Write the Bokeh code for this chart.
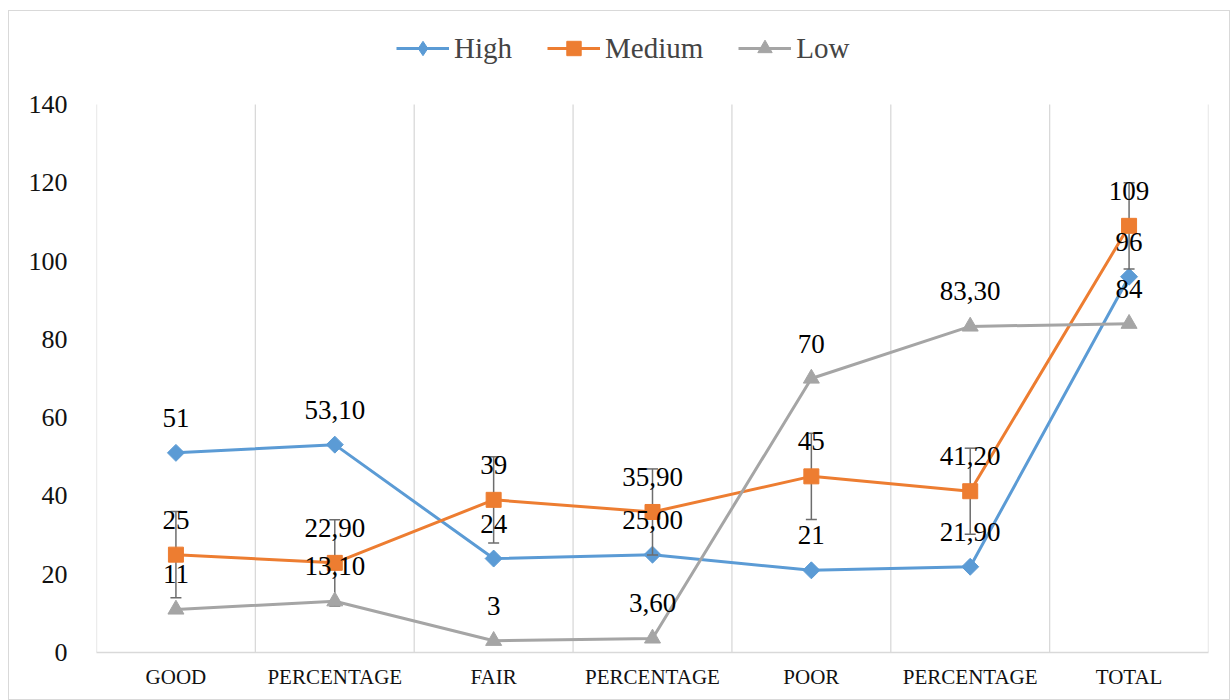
import math
from bokeh.plotting import figure
from bokeh.models import (Range1d, FixedTicker, Legend, LegendItem,
                          ColumnDataSource, LabelSet, CDSView, IndexFilter)
from bokeh.embed import file_html
from bokeh.resources import INLINE

# ---------------- data ----------------
categories = ["GOOD", "PERCENTAGE", "FAIR", "PERCENTAGE", "POOR", "PERCENTAGE", "TOTAL"]
high = [51, 53.1, 24, 25, 21, 21.9, 96]
medium = [25, 22.9, 39, 35.9, 45, 41.2, 109]
low = [11, 13.1, 3, 3.6, 70, 83.3, 84]
high_labels = ["51", "53,10", "24", "25,00", "21", "21,90", "96"]
medium_labels = ["25", "22,90", "39", "35,90", "45", "41,20", "109"]
low_labels = ["11", "13,10", "3", "3,60", "70", "83,30", "84"]
medium_err = [11, 11, 11, 11, 11, 11, 11]
y_ticks = [0, 20, 40, 60, 80, 100, 120, 140]
y_max = 140

FONT = "'Liberation Serif'"
C_HIGH = "#5B9BD5"
C_MED = "#ED7D31"
C_LOW = "#A5A5A5"
GRID = "#d9d9d9"

n = len(categories)
xs = [i + 0.5 for i in range(n)]
bounds = list(range(n + 1))

src = ColumnDataSource(dict(
    x=xs, high=high, medium=medium, low=low,
    hl=high_labels, ml=medium_labels, ll=low_labels,
    mu=[m + e for m, e in zip(medium, medium_err)],
    md=[m - e for m, e in zip(medium, medium_err)],
))

# frame extends above the value axis to hold the legend
px_per_unit = 548 / y_max
top_extra = 90 / px_per_unit

p = figure(width=1222, height=690, margin=(10, 0, 0, 8),
           output_backend="svg", toolbar_location=None,
           x_range=Range1d(0, n), y_range=Range1d(0, y_max + top_extra),
           min_border_left=87, min_border_right=23,
           min_border_top=3, min_border_bottom=49,
           styles={"border": "1px solid #d9d9d9", "box-sizing": "border-box"})
p.outline_line_color = None
p.background_fill_color = "white"
p.border_fill_color = "white"

# grids (vertical category separators limited to the value range)
p.ygrid.visible = False
p.xgrid.visible = False
p.segment(x0=bounds, y0=[0] * len(bounds), x1=bounds, y1=[y_max] * len(bounds),
          line_color=GRID, line_width=1.3)

# x axis
p.xaxis.ticker = FixedTicker(ticks=xs)
p.xaxis.major_label_overrides = {x: c for x, c in zip(xs, categories)}
p.xaxis.axis_line_color = GRID
p.xaxis.axis_line_width = 1.3
p.xaxis.major_tick_line_color = None
p.xaxis.minor_tick_line_color = None
p.xaxis.major_label_text_font = FONT
p.xaxis.major_label_text_font_size = "21px"
p.xaxis.major_label_text_color = "#111111"
p.xaxis.major_label_standoff = 6

# y axis
p.yaxis.ticker = FixedTicker(ticks=y_ticks)
p.yaxis.axis_line_color = None
p.yaxis.major_tick_line_color = None
p.yaxis.minor_tick_line_color = None
p.yaxis.major_label_text_font = FONT
p.yaxis.major_label_text_font_size = "26px"
p.yaxis.major_label_text_color = "#111111"
p.yaxis.major_label_standoff = 23

# series
h_line = p.line("x", "high", source=src, line_color=C_HIGH, line_width=3)
# legend diamond glyph: one point, hidden inside the plotted marker
h_leg = p.scatter("x", "high", source=src, marker="diamond", size=10,
                  fill_color=C_HIGH, line_color=C_HIGH,
                  view=CDSView(filter=IndexFilter(indices=[0])))
h_mark = p.scatter("x", "high", source=src, marker="square", size=12,
                   angle=math.pi / 4, fill_color=C_HIGH, line_color=C_HIGH)

# error bars for Medium
p.segment(x0="x", y0="md", x1="x", y1="mu", source=src,
          line_color="#6d6d6d", line_width=1.5)
p.scatter("x", "mu", source=src, marker="dash", size=11,
          line_color="#6d6d6d", line_width=1.5)
p.scatter("x", "md", source=src, marker="dash", size=11,
          line_color="#6d6d6d", line_width=1.5)

m_line = p.line("x", "medium", source=src, line_color=C_MED, line_width=3)
m_mark = p.scatter("x", "medium", source=src, marker="square", size=15,
                   fill_color=C_MED, line_color=C_MED)

l_line = p.line("x", "low", source=src, line_color=C_LOW, line_width=3)
l_mark = p.scatter("x", "low", source=src, marker="triangle", size=16,
                   fill_color=C_LOW, line_color=C_LOW)

# data labels
for col, ycol in (("hl", "high"), ("ml", "medium"), ("ll", "low")):
    ls = LabelSet(x="x", y=ycol, text=col, source=src, y_offset=35,
                  text_align="center", text_baseline="middle",
                  text_font=FONT, text_font_size="27px", text_color="#000000")
    p.add_layout(ls)

legend = Legend(items=[
    LegendItem(label="High", renderers=[h_line, h_leg]),
    LegendItem(label="Medium", renderers=[m_line, m_mark]),
    LegendItem(label="Low", renderers=[l_line, l_mark]),
], orientation="horizontal", location=(300, 586),
    label_text_font=FONT, label_text_font_size="29px",
    glyph_width=53, glyph_height=36, spacing=35, label_standoff=5,
    border_line_color=None, background_fill_alpha=0, padding=0, margin=0)
p.add_layout(legend)

open("out.html", "w").write(file_html(p, INLINE))
